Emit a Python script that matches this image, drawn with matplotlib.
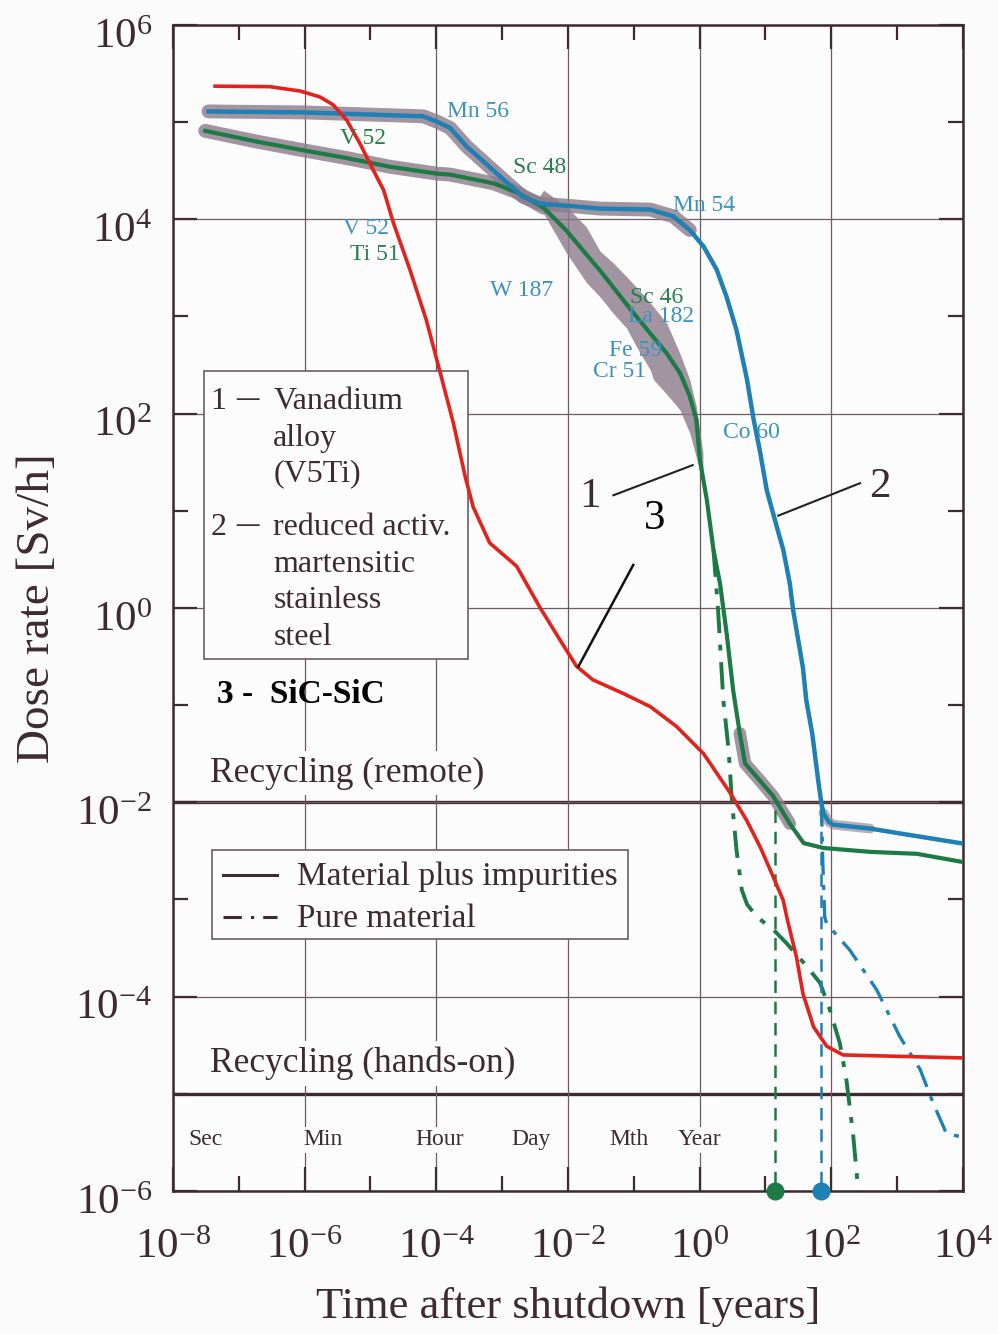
import numpy as np
import matplotlib
matplotlib.use('Agg')
from matplotlib import pyplot as plt
from matplotlib.patches import Rectangle
from matplotlib.ticker import FixedLocator, NullFormatter
from matplotlib.transforms import ScaledTranslation

# all values are log10(time [years]) and log10(dose rate [Sv/h])
# 1 - vanadium alloy, material plus impurities
vanadium_logt = [-7.51, -6.73, -6.02, -5.36, -4.70, -3.99, -3.79, -3.13, -2.78, -2.37, -2.02,
                 -1.51, -1.01, -0.50, -0.30, -0.15, -0.05, 0.005, 0.11, 0.21, 0.31, 0.41,
                 0.51, 0.61, 0.69, 0.87, 1.12, 1.37, 1.58, 1.88, 2.59, 3.30, 3.96]
vanadium_logd = [4.91, 4.80, 4.71, 4.63, 4.54, 4.47, 4.46, 4.37, 4.28, 4.12, 3.88,
                 3.47, 3.04, 2.62, 2.42, 2.18, 1.94, 1.52, 1.11, 0.60, 0.25, -0.26,
                 -0.85, -1.29, -1.60, -1.74, -1.94, -2.22, -2.42, -2.47, -2.51, -2.53, -2.61]
# 1 - vanadium alloy, pure material
vanadium_pure_logt = [0.21, 0.28, 0.33, 0.36, 0.44, 0.49, 0.56, 0.64, 0.72, 0.87, 1.12, 1.32,
                      1.63, 1.83, 1.98, 2.13, 2.23, 2.33, 2.41]
vanadium_pure_logd = [0.60, -0.02, -0.60, -0.95, -1.46, -1.98, -2.49, -2.90, -3.05, -3.18, -3.31,
                      -3.45, -3.69, -3.86, -4.14, -4.48, -4.86, -5.41, -6.00]
# uncertainty band around curve 1
band_logt = [-2.45, -2.37, -2.02, -1.72, -1.51, -1.31, -1.11, -0.96, -0.75, -0.70, -0.50,
             -0.30, -0.15, -0.05, 0.05]
band_lo = [4.15, 4.06, 3.65, 3.35, 3.20, 3.03, 2.88, 2.69, 2.45, 2.35, 2.20,
           2.04, 1.80, 1.55, 1.30]
band_hi = [4.22, 4.30, 4.13, 3.92, 3.67, 3.55, 3.41, 3.30, 3.14, 3.10, 2.93,
           2.62, 2.35, 2.07, 1.60]

# 2 - reduced activation martensitic steel, material plus impurities
steel_logt = [-7.46, -6.02, -4.20, -3.99, -3.79, -3.54, -3.03, -2.68, -2.42, -2.02, -1.51,
              -0.75, -0.40, -0.15, 0.06, 0.26, 0.41, 0.56, 0.72, 0.82, 0.92, 1.02, 1.17,
              1.27, 1.37, 1.42, 1.57, 1.62, 1.71, 1.80, 1.85, 1.88, 1.96, 2.03, 2.59, 3.04, 3.96]
steel_logd = [5.11, 5.10, 5.06, 5.005, 4.94, 4.75, 4.44, 4.23, 4.16, 4.14, 4.11,
              4.10, 4.03, 3.89, 3.72, 3.48, 3.20, 2.86, 2.35, 1.94, 1.60, 1.21, 0.84,
              0.60, 0.25, -0.02, -0.62, -0.95, -1.29, -1.77, -2.01, -2.11, -2.20, -2.23, -2.27,
              -2.32, -2.42]
# 2 - steel, pure material
steel_pure_logt = [1.85, 1.87, 1.90, 1.93, 2.28, 2.69, 3.04, 3.35, 3.55, 3.75, 3.96]
steel_pure_logd = [-2.01, -2.60, -3.18, -3.25, -3.52, -3.93, -4.41, -4.75, -5.10, -5.41, -5.44]

# 3 - SiC-SiC
sic_logt = [-7.36, -6.53, -6.07, -5.77, -5.57, -5.36, -5.16, -4.96, -4.80, -4.65, -4.40,
            -4.15, -3.94, -3.74, -3.56, -3.44, -3.19, -2.78, -2.43, -2.12, -1.87, -1.62,
            -1.16, -0.75, -0.35, 0.06, 0.46, 0.71, 0.92, 1.12, 1.27, 1.33, 1.47, 1.57,
            1.73, 1.93, 2.18, 3.96]
sic_logd = [5.37, 5.365, 5.32, 5.26, 5.18, 5.02, 4.78, 4.51, 4.30, 3.96, 3.48,
            2.96, 2.42, 1.90, 1.35, 1.04, 0.67, 0.43, 0.01, -0.33, -0.60, -0.74,
            -0.88, -1.015, -1.22, -1.50, -1.90, -2.18, -2.46, -2.77, -3.01, -3.20, -3.59, -3.97,
            -4.31, -4.51, -4.60, -4.63]

# times where the pure materials reach the hands-on limit
limit_logt = [1.145, 1.845]
limit_top_logd = -2.08

# recycling limits [Sv/h]
remote_limit = 1e-2
handson_limit = 1e-5

# time units
unit_names = ['Sec', 'Min', 'Hour', 'Day', 'Mth', 'Year']
unit_years = [1 / 31557600, 1 / 525960, 1 / 8766, 1 / 365.25, 1 / 12, 1.0]

isotopes = ['Mn 56', 'V 52', 'Sc 48', 'V 52', 'Ti 51', 'W 187', 'Mn 54', 'Sc 46',
            'La 182', 'Fe 59', 'Cr 51', 'Co 60']
isotope_curve = ['steel', 'vanadium', 'vanadium', 'steel', 'vanadium', 'steel', 'steel',
                 'vanadium', 'steel', 'steel', 'steel', 'steel']


def t(a):
    return 10.0 ** np.asarray(a, dtype=float)


def main():
    plt.rcParams['font.family'] = ['Liberation Serif', 'DejaVu Serif']
    plt.rcParams['mathtext.fontset'] = 'stix'

    dark = '#3d2b30'
    gridc = '#6e5a63'
    blue = '#1f80b3'
    green = '#1c7a45'
    red = '#e3221c'
    halo = '#8c7b8b'
    txt_blue = '#3a92c2'
    txt_green = '#2a7f4c'
    bg = '#fdfcfc'

    fig = plt.figure(figsize=(9.98, 13.34), dpi=100)
    fig.patch.set_facecolor('#fcfbfb')
    ax = fig.add_axes([0.1733, 0.1072, 0.7916, 0.8741])
    ax.set_facecolor(bg)
    ax.set_xscale('log')
    ax.set_yscale('log')
    ax.set_xlim(1e-8, 1e4)
    ax.set_ylim(1e-6, 1e6)

    ax.xaxis.set_major_locator(FixedLocator(t(np.arange(-8, 5, 2))))
    ax.xaxis.set_minor_locator(FixedLocator(t(np.arange(-7, 4, 2))))
    ax.yaxis.set_major_locator(FixedLocator(t(np.arange(-6, 7, 2))))
    ax.yaxis.set_minor_locator(FixedLocator(t(np.arange(-5, 6, 2))))
    ax.xaxis.set_minor_formatter(NullFormatter())
    ax.yaxis.set_minor_formatter(NullFormatter())
    ax.tick_params(which='both', direction='in', top=True, right=True, color=dark,
                   width=1.6, labelcolor=dark)
    ax.tick_params(which='major', length=17, labelsize=31)
    ax.tick_params(axis='x', which='major', pad=27)
    ax.tick_params(axis='y', which='major', pad=15)
    ax.tick_params(which='minor', length=11)
    ax.grid(True, which='major', color=gridc, lw=0.9, zorder=0.5)
    for s in ax.spines.values():
        s.set_color(dark)
        s.set_linewidth(1.8)
    shift = ScaledTranslation(0, -8 / 100, fig.dpi_scale_trans)
    for lab in ax.get_yticklabels():
        lab.set_transform(lab.get_transform() + shift)

    # recycling limits
    ax.axhline(remote_limit, color=dark, lw=2.4, zorder=1)
    ax.axhline(handson_limit, color=dark, lw=2.4, zorder=1)
    ax.text(t(-7.44), t(-1.70), 'Recycling (remote)', fontsize=25.5, color=dark, va='center',
            ha='left', zorder=2, bbox=dict(fc=bg, ec='none', pad=4))
    ax.text(t(-7.44), t(-4.686), 'Recycling (hands-on)', fontsize=25.5, color=dark, va='center',
            ha='left', zorder=2, bbox=dict(fc=bg, ec='none', pad=4))

    for name, yr in zip(unit_names, unit_years):
        ax.text(yr, t(-5.475), name, fontsize=17, color=dark, ha='center', va='center',
                zorder=2, bbox=dict(fc=bg, ec='none', pad=2))

    # grey bands
    vt, vd = np.array(vanadium_logt), np.array(vanadium_logd)
    st, sd = np.array(steel_logt), np.array(steel_logd)
    m = vt <= -2.3
    ax.plot(t(vt[m]), t(vd[m]), color=halo, lw=10, alpha=0.8, solid_capstyle='round', zorder=3)
    m = (vt >= 0.6) & (vt <= 1.4)
    ax.plot(t(vt[m]), t(vd[m]), color=halo, lw=9, alpha=0.8, solid_capstyle='round', zorder=3)
    m = st <= 0.0
    ax.plot(t(st[m]), t(sd[m]), color=halo, lw=10, alpha=0.8, solid_capstyle='round', zorder=3)
    m = (st >= 1.88) & (st <= 2.6)
    ax.plot(t(st[m]), t(sd[m]), color=halo, lw=7, alpha=0.6, solid_capstyle='round', zorder=3)
    ax.fill_between(t(band_logt), t(band_lo), t(band_hi), color=halo, alpha=0.8, lw=0, zorder=3)

    # legend box 1
    ax.add_patch(Rectangle((0.0392, 0.456), 0.3346, 0.2475, transform=ax.transAxes,
                           fc=bg, ec=gridc, lw=1.2, zorder=3.5))
    leg_fs = 23
    rows = [(0.6704, '1', 'Vanadium'), (0.6389, None, 'alloy'), (0.6083, None, '(V5Ti)'),
            (0.5626, '2', 'reduced activ.'), (0.5311, None, 'martensitic'),
            (0.4997, None, 'stainless'), (0.4683, None, 'steel')]
    for yy, num, label in rows:
        if num:
            ax.text(0.0573, yy, num, transform=ax.transAxes, fontsize=leg_fs, color=dark,
                    ha='center', va='baseline', zorder=4)
            ax.text(0.0943, yy, '\u2013', transform=ax.transAxes, fontsize=32, color=dark,
                    ha='center', va='baseline', zorder=4)
        ax.text(0.127, yy, label, transform=ax.transAxes, fontsize=leg_fs, color=dark,
                ha='left', va='baseline', zorder=4)
    ax.text(0.0553, 0.4188, '3 -  SiC-SiC', transform=ax.transAxes, fontsize=24,
            color='black', fontweight='bold', ha='left', va='baseline', zorder=4)

    # legend box 2
    ax.add_patch(Rectangle((0.049, 0.2159), 0.5273, 0.0766, transform=ax.transAxes,
                           fc=bg, ec=gridc, lw=1.2, zorder=3.5))
    ax.plot([0.0633, 0.1313], [0.271, 0.271], transform=ax.transAxes, color=dark, lw=2.2,
            zorder=4)
    ax.plot([0.0633, 0.1313], [0.2352, 0.2352], transform=ax.transAxes, color=dark, lw=2.2,
            ls=(0, (6, 3, 1, 3)), zorder=4)
    ax.text(0.1566, 0.2624, 'Material plus impurities', transform=ax.transAxes, fontsize=24,
            color=dark, ha='left', va='baseline', zorder=4)
    ax.text(0.1566, 0.2267, 'Pure material', transform=ax.transAxes, fontsize=24,
            color=dark, ha='left', va='baseline', zorder=4)

    # curves
    ax.plot(t(vanadium_pure_logt), t(vanadium_pure_logd), color=green, lw=2.8,
            ls=(0, (7, 3, 1.5, 3)), zorder=5)
    ax.plot(t(steel_pure_logt), t(steel_pure_logd), color=blue, lw=2.4,
            ls=(0, (7, 3, 1.5, 3)), zorder=5)
    ax.plot(t(vanadium_logt), t(vanadium_logd), color=green, lw=3.0, zorder=6)
    ax.plot(t(steel_logt), t(steel_logd), color=blue, lw=3.2, zorder=6)
    ax.plot(t(sic_logt), t(sic_logd), color=red, lw=2.6, zorder=7)

    # limit times
    for lt, c in zip(limit_logt, [green, blue]):
        ax.plot([t(lt), t(lt)], [t(limit_top_logd), 1e-6], color=c, lw=1.8,
                ls=(0, (5, 3.5)), zorder=5)
        ax.plot([t(lt)], [1e-6], 'o', color=c, ms=12, clip_on=False, zorder=8)

    # isotope labels
    iso_pos = [(-3.37, 5.11), (-5.11, 4.83), (-2.43, 4.53), (-5.07, 3.91), (-4.93, 3.64),
               (-2.70, 3.27), (0.07, 4.14), (-0.65, 3.20), (-0.59, 3.00), (-0.98, 2.65),
               (-1.22, 2.43), (0.78, 1.81)]
    for name, curve, (lx, ly) in zip(isotopes, isotope_curve, iso_pos):
        c = txt_blue if curve == 'steel' else txt_green
        ax.text(t(lx), t(ly), name, fontsize=17, color=c, ha='center', va='center', zorder=9)

    # curve numbers with leader lines
    ax.text(t(-1.67), t(1.14), '1', fontsize=31, color=dark, ha='center', va='center', zorder=9)
    ax.plot(t([-1.31, -0.105]), t([1.16, 1.47]), color='#222222', lw=1.5, zorder=9)
    ax.text(t(2.74), t(1.25), '2', fontsize=31, color=dark, ha='center', va='center', zorder=9)
    ax.plot(t([1.195, 2.436]), t([0.95, 1.284]), color='#222222', lw=1.5, zorder=9)
    ax.text(t(-0.68), t(0.92), '3', fontsize=31, color='black', ha='center', va='center', zorder=9)
    ax.plot(t([-1.008, -1.843]), t([0.443, -0.604]), color='#111111', lw=1.8, zorder=9)

    ax.set_xlabel('Time after shutdown [years]', fontsize=32, color=dark, labelpad=14)
    ax.set_ylabel('Dose rate [Sv/h]', fontsize=34, color=dark, labelpad=12)

    fig.savefig('out.png', dpi=100, facecolor=fig.get_facecolor())


if __name__ == "__main__":
    main()
